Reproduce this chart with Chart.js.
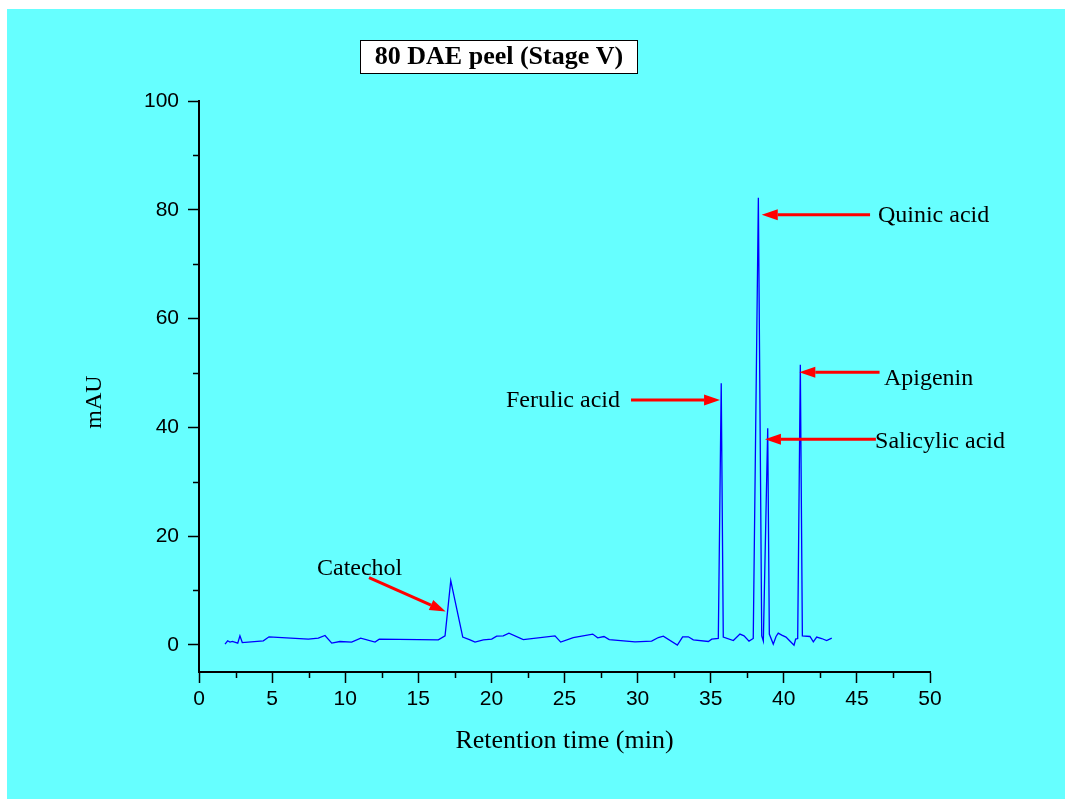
<!DOCTYPE html>
<html>
<head>
<meta charset="utf-8">
<title>80 DAE peel (Stage V)</title>
<script src="https://cdn.jsdelivr.net/npm/chart.js@4.4.1/dist/chart.umd.min.js"></script>
<style>
  html, body { margin: 0; padding: 0; background: #ffffff; overflow: hidden; }
  canvas { display: block; }
</style>
</head>
<body>
<canvas id="chrom" width="1065" height="799"></canvas>
<script>
// Chromatogram trace: retention time (min) and detector response (mAU)
const retentionTime = [
  1.78, 1.96, 2.12, 2.28, 2.65, 2.80, 2.96, 4.40, 4.79, 7.48,
  8.16, 8.62, 9.08, 9.64, 10.44, 11.06, 12.04, 12.33, 16.37, 16.83,
  17.22, 18.04, 18.54, 18.88, 19.45, 20.02, 20.36, 20.81, 21.20, 22.18,
  24.35, 24.74, 25.60, 26.93, 27.27, 27.70, 28.06, 29.82, 30.96, 31.42,
  31.76, 32.72, 33.08, 33.47, 33.81, 34.84, 35.07, 35.52, 35.72, 35.86,
  36.55, 37.00, 37.28, 37.62, 37.91, 38.26, 38.49, 38.60, 38.90, 39.01,
  39.28, 39.47, 39.62, 39.86, 40.15, 40.38, 40.70, 40.81, 40.95, 41.13,
  41.27, 41.79, 42.02, 42.25, 42.59, 42.93, 43.28
];
const responseMAU = [
  0.13, 0.74, 0.50, 0.61, 0.31, 1.65, 0.42, 0.74, 1.47, 1.05,
  1.23, 1.71, 0.31, 0.61, 0.50, 1.23, 0.50, 1.05, 0.92, 1.65,
  11.8, 1.42, 0.92, 0.50, 0.92, 1.05, 1.60, 1.65, 2.15, 0.97,
  1.65, 0.50, 1.34, 1.97, 1.29, 1.53, 0.97, 0.55, 0.68, 1.34,
  1.60, -0.06, 1.47, 1.47, 0.92, 0.61, 1.05, 1.16, 48.1, 1.42,
  0.79, 1.97, 1.65, 0.68, 1.16, 82.2, 1.65, 0.70, 39.8, 1.97,
  0.13, 1.53, 2.15, 1.78, 1.42, 0.79, -0.06, 1.05, 1.16, 51.5,
  1.65, 1.53, 0.55, 1.42, 1.16, 0.79, 1.23
];

// Axis ticks (majors carry labels, the rest are minor marks)
const xTickValues = [0, 2.5, 5, 7.5, 10, 12.5, 15, 17.5, 20, 22.5, 25, 27.5, 30, 32.5, 35, 37.5, 40, 42.5, 45, 47.5, 50];
const xMajorStep = 5;
const yTickValues = [0, 10, 20, 30, 40, 50, 60, 70, 80, 90, 100];
const yMajorStep = 20;

// Peak names with label anchor and arrow tail/tip, in axis units
const peakNames = ['Catechol', 'Ferulic acid', 'Quinic acid', 'Apigenin', 'Salicylic acid'];
const labelAt = [[8.07, 12.87], [21.0, 43.75], [46.44, 77.7], [46.85, 47.8], [46.24, 36.2]];
const arrowFrom = [[11.63, 12.37], [29.55, 45.0], [45.9, 79.1], [46.55, 50.1], [46.3, 37.8]];
const arrowTo = [[16.87, 6.12], [35.64, 45.0], [38.49, 79.1], [41.06, 50.1], [38.71, 37.8]];

const chartTitle = '80 DAE peel (Stage V)';
const xTitle = 'Retention time (min)';
const yTitle = 'mAU';

const SERIF = '"Liberation Serif", "Times New Roman", Times, serif';
const SANS = '"Liberation Sans", Arial, Helvetica, sans-serif';

const isMajor = (v, step) => Math.abs(v / step - Math.round(v / step)) < 1e-9;

const decor = {
  id: 'decor',
  beforeDraw(chart) {
    const c = chart.ctx;
    c.save();
    c.fillStyle = '#ffffff';
    c.fillRect(0, 0, chart.width, chart.height);
    c.fillStyle = '#66ffff';
    c.fillRect(7, 9, chart.width - 7, chart.height - 9);
    c.restore();
  },
  afterDraw(chart) {
    const c = chart.ctx;
    const xs = chart.scales.x, ys = chart.scales.y;
    const area = chart.chartArea;
    c.save();

    // minor tick marks
    c.strokeStyle = '#000000';
    c.lineWidth = 1.5;
    c.beginPath();
    xTickValues.filter(v => !isMajor(v, xMajorStep)).forEach(v => {
      const px = Math.round(xs.getPixelForValue(v)) + 0.5;
      c.moveTo(px, area.bottom);
      c.lineTo(px, area.bottom + 6);
    });
    yTickValues.filter(v => !isMajor(v, yMajorStep)).forEach(v => {
      const py = Math.round(ys.getPixelForValue(v)) + 0.5;
      c.moveTo(area.left, py);
      c.lineTo(area.left - 6, py);
    });
    c.stroke();

    // axis titles
    c.fillStyle = '#000000';
    c.font = '26px ' + SERIF;
    c.textAlign = 'center';
    c.textBaseline = 'middle';
    c.fillText(xTitle, (area.left + area.right) / 2, 741);
    c.save();
    c.translate(95, 402);
    c.rotate(-Math.PI / 2);
    c.font = '24px ' + SERIF;
    c.fillText(yTitle, 0, 0);
    c.restore();

    // title box
    c.fillStyle = '#ffffff';
    c.fillRect(360, 40, 277, 33);
    c.strokeStyle = '#000000';
    c.lineWidth = 1;
    c.strokeRect(360.5, 40.5, 277, 33);
    c.fillStyle = '#000000';
    c.font = 'bold 26px ' + SERIF;
    c.textAlign = 'center';
    c.textBaseline = 'middle';
    c.fillText(chartTitle, 499, 57);

    // peak labels and arrows
    c.font = '24px ' + SERIF;
    c.textAlign = 'left';
    c.textBaseline = 'alphabetic';
    peakNames.forEach((name, i) => {
      c.fillStyle = '#000000';
      c.fillText(name, xs.getPixelForValue(labelAt[i][0]), ys.getPixelForValue(labelAt[i][1]));
      const x0 = xs.getPixelForValue(arrowFrom[i][0]), y0 = ys.getPixelForValue(arrowFrom[i][1]);
      const x1 = xs.getPixelForValue(arrowTo[i][0]), y1 = ys.getPixelForValue(arrowTo[i][1]);
      const ang = Math.atan2(y1 - y0, x1 - x0);
      const headLen = 16, headHalf = 5.5;
      const bx = x1 - headLen * Math.cos(ang), by = y1 - headLen * Math.sin(ang);
      c.strokeStyle = '#ff0000';
      c.lineWidth = 3;
      c.beginPath();
      c.moveTo(x0, y0);
      c.lineTo(bx, by);
      c.stroke();
      c.fillStyle = '#ff0000';
      c.beginPath();
      c.moveTo(x1, y1);
      c.lineTo(bx + headHalf * Math.sin(ang), by - headHalf * Math.cos(ang));
      c.lineTo(bx - headHalf * Math.sin(ang), by + headHalf * Math.cos(ang));
      c.closePath();
      c.fill();
    });
    c.restore();
  }
};

new Chart(document.getElementById('chrom'), {
  type: 'line',
  data: {
    datasets: [{
      data: retentionTime.map((t, i) => ({ x: t, y: responseMAU[i] })),
      borderColor: '#0000ff',
      borderWidth: 1.3,
      pointRadius: 0,
      tension: 0,
      fill: false
    }]
  },
  options: {
    responsive: false,
    animation: false,
    devicePixelRatio: 1,
    layout: { padding: { left: 7, top: 101, right: 135, bottom: 0 } },
    plugins: { legend: { display: false }, tooltip: { enabled: false } },
    scales: {
      x: {
        type: 'linear',
        min: 0,
        max: 50,
        afterBuildTicks: s => { s.ticks = xTickValues.map(v => ({ value: v })); },
        afterFit: s => { s.height = 127; },
        border: { display: true, color: '#000000', width: 2 },
        grid: {
          display: true,
          drawOnChartArea: false,
          drawTicks: true,
          tickLength: 11,
          tickWidth: 1.5,
          tickColor: ctx => (ctx.tick && isMajor(ctx.tick.value, xMajorStep)) ? '#000000' : 'rgba(0,0,0,0)'
        },
        ticks: {
          autoSkip: false,
          maxRotation: 0,
          padding: 4,
          color: '#000000',
          font: { family: SANS, size: 21 },
          callback: v => isMajor(v, xMajorStep) ? String(v) : ''
        }
      },
      y: {
        type: 'linear',
        min: -5,
        max: 100,
        afterBuildTicks: s => { s.ticks = yTickValues.map(v => ({ value: v })); },
        afterFit: s => { s.width = 192; },
        border: { display: true, color: '#000000', width: 2 },
        grid: {
          display: true,
          drawOnChartArea: false,
          drawTicks: true,
          tickLength: 11,
          tickWidth: 1.5,
          tickColor: ctx => (ctx.tick && isMajor(ctx.tick.value, yMajorStep)) ? '#000000' : 'rgba(0,0,0,0)'
        },
        ticks: {
          autoSkip: false,
          padding: 9,
          color: '#000000',
          font: { family: SANS, size: 21 },
          callback: v => isMajor(v, yMajorStep) ? String(v) : ''
        }
      }
    }
  },
  plugins: [decor]
});
</script>
</body>
</html>
